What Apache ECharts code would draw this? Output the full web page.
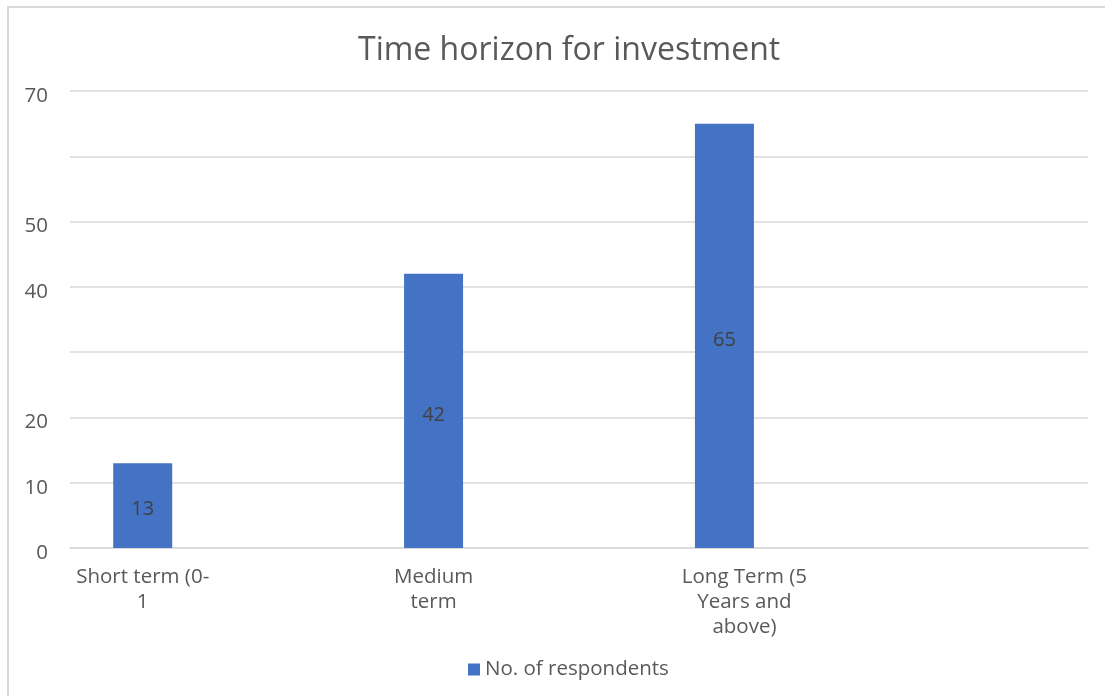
<!DOCTYPE html>
<html>
<head>
<meta charset="utf-8">
<script src="https://cdn.jsdelivr.net/npm/echarts@6/dist/echarts.min.js"></script>
<style>
  html, body { margin: 0; padding: 0; background: #ffffff; }
  #chart { width: 1105px; height: 696px; }
</style>
</head>
<body>
<div id="chart"></div>
<script>
// Category slots along the x axis; blank slots keep the bars spaced apart.
const categories = ['Short term (0-\n1', '', 'Medium\nterm', '', 'Long Term (5\nYears and\nabove)', '', ''];
const respondents = [13, null, 42, null, 65, null, null];
const hiddenYTicks = [30, 60];

const FONT = '"Open Sans", "Noto Sans", sans-serif';
const TEXT = '#595959';
const GRID = '#d9d9d9';

// The long, three-line category label sits a little to the right of its bar.
const categoryItems = categories.map(name =>
  name.startsWith('Long')
    ? { value: name, textStyle: { padding: [0, 0, 0, 40] } }
    : name
);

const chart = echarts.init(document.getElementById('chart'), null, { renderer: 'canvas' });

chart.setOption({
  backgroundColor: '#ffffff',
  animation: false,
  title: {
    text: 'Time horizon for investment',
    left: 353,
    top: 30,
    textStyle: { fontFamily: FONT, fontSize: 32, fontWeight: 'normal', color: TEXT }
  },
  graphic: [{
    type: 'rect',
    shape: { x: 8, y: 7, width: 1120, height: 720 },
    style: { fill: 'none', stroke: GRID, lineWidth: 2 },
    silent: true
  }],
  legend: {
    bottom: 11,
    left: 463,
    itemWidth: 12,
    itemHeight: 12,
    itemGap: 6,
    icon: 'rect',
    textStyle: { fontFamily: FONT, fontSize: 20.5, color: TEXT }
  },
  grid: { left: 70, right: 17, top: 91, bottom: 148, containLabel: false },
  xAxis: {
    type: 'category',
    data: categoryItems,
    axisLine: { show: true, lineStyle: { color: GRID, width: 1.5 } },
    axisTick: { show: false },
    axisLabel: {
      interval: 0,
      margin: 17,
      fontFamily: FONT,
      fontSize: 20.5,
      lineHeight: 25,
      color: TEXT
    }
  },
  yAxis: {
    type: 'value',
    min: 0,
    max: 70,
    interval: 10,
    axisLine: { show: false },
    axisTick: { show: false },
    splitLine: { lineStyle: { color: GRID, width: 1.5 } },
    axisLabel: {
      margin: 22,
      fontFamily: FONT,
      fontSize: 20.5,
      color: TEXT,
      formatter: v => hiddenYTicks.includes(v) ? '' : '{t|' + v + '}',
      rich: {
        t: { fontFamily: FONT, fontSize: 20.5, color: TEXT, padding: [10, 0, 0, 0] }
      }
    }
  },
  series: [{
    name: 'No. of respondents',
    type: 'bar',
    data: respondents,
    barWidth: 59,
    itemStyle: { color: '#4472C4' },
    label: {
      show: true,
      position: 'inside',
      offset: [0, 4],
      fontFamily: FONT,
      fontSize: 20,
      color: '#404040'
    }
  }]
});
</script>
</body>
</html>
